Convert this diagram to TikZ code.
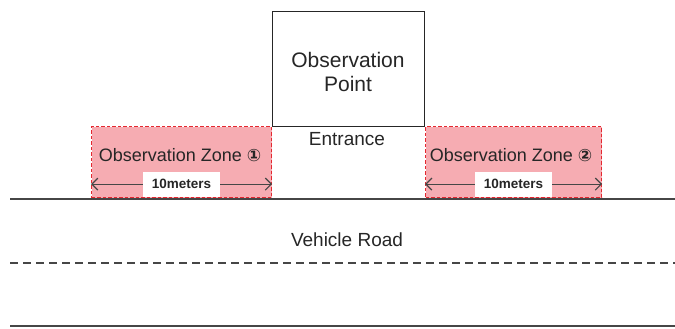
\documentclass[tikz,border=0pt]{standalone}
\usepackage{fontspec}
\setmainfont{Liberation Sans}
\newfontfamily\symfont{DejaVu Sans}
\usetikzlibrary{arrows.meta}
\definecolor{zonefill}{RGB}{246,172,178}
\definecolor{zoneborder}{RGB}{228,40,48}
\definecolor{roadgray}{RGB}{70,70,70}
\tikzset{
  zonebox/.style={draw=zoneborder, fill=zonefill, dash pattern=on 3.5pt off 2pt, line width=1.1pt,
    minimum width=180pt, minimum height=71pt, inner sep=0pt, anchor=north west},
  obsbox/.style={draw=black!85, fill=white, line width=0.9pt, minimum width=152pt,
    minimum height=115pt, inner sep=0pt, anchor=north west},
  plaintext/.style={inner sep=0pt, font=\fontsize{19}{23}\selectfont, text=black!85},
  zonetext/.style={inner sep=0pt, font=\fontsize{18}{21}\selectfont, text=black!85},
  dimline/.style={draw=roadgray, line width=1.2pt, {Straight Barb[length=6pt,width=12pt]}-{Straight Barb[length=6pt,width=12pt]}},
  dimlabel/.style={fill=white, font=\bfseries\fontsize{13.5}{16}\selectfont, text=black!85,
    minimum width=77pt, minimum height=25pt, inner sep=0pt},
  roadline/.style={draw=roadgray, line width=1.4pt},
  laneline/.style={draw=roadgray, line width=1.4pt, dash pattern=on 8pt off 5pt}
}
\begin{document}
\begin{tikzpicture}[x=1pt,y=-1pt]
\useasboundingbox (0,0) rectangle (675,329);
% observation point
\node[obsbox] (op) at (272,11) {};
\node[plaintext, font=\fontsize{21}{24}\selectfont, align=center] (optext) at (348,72) {Observation\\Point};
% zones
\node[zonebox] (z1) at (91,126) {};
\node[zonebox, minimum width=176pt] (z2) at (425,126) {};
\node[zonetext] (z1text) at (180,155) {Observation Zone {\symfont\bfseries\fontsize{17}{17}\selectfont ①}};
\node[zonetext] (z2text) at (511,155) {Observation Zone {\symfont\bfseries\fontsize{17}{17}\selectfont ②}};
\draw[dimline] ([yshift=14pt]z1.south west) -- node[dimlabel] (d1) {10meters} ([yshift=14pt]z1.south east);
\draw[dimline] ([yshift=14pt]z2.south west) -- node[dimlabel] (d2) {10meters} ([yshift=14pt]z2.south east);
% entrance
\node[plaintext] (ent) at (347,139) {Entrance};
% road
\coordinate (r1l) at (10,199);
\coordinate (r1r) at (675,199);
\coordinate (r2l) at (10,263);
\coordinate (r2r) at (675,263);
\coordinate (r3l) at (10,326);
\coordinate (r3r) at (675,326);
\draw[roadline] (r1l) -- (r1r);
\draw[laneline] (r2l) -- (r2r);
\draw[roadline] (r3l) -- (r3r);
\node[plaintext] (road) at (347,240) {Vehicle Road};
\end{tikzpicture}
\end{document}
